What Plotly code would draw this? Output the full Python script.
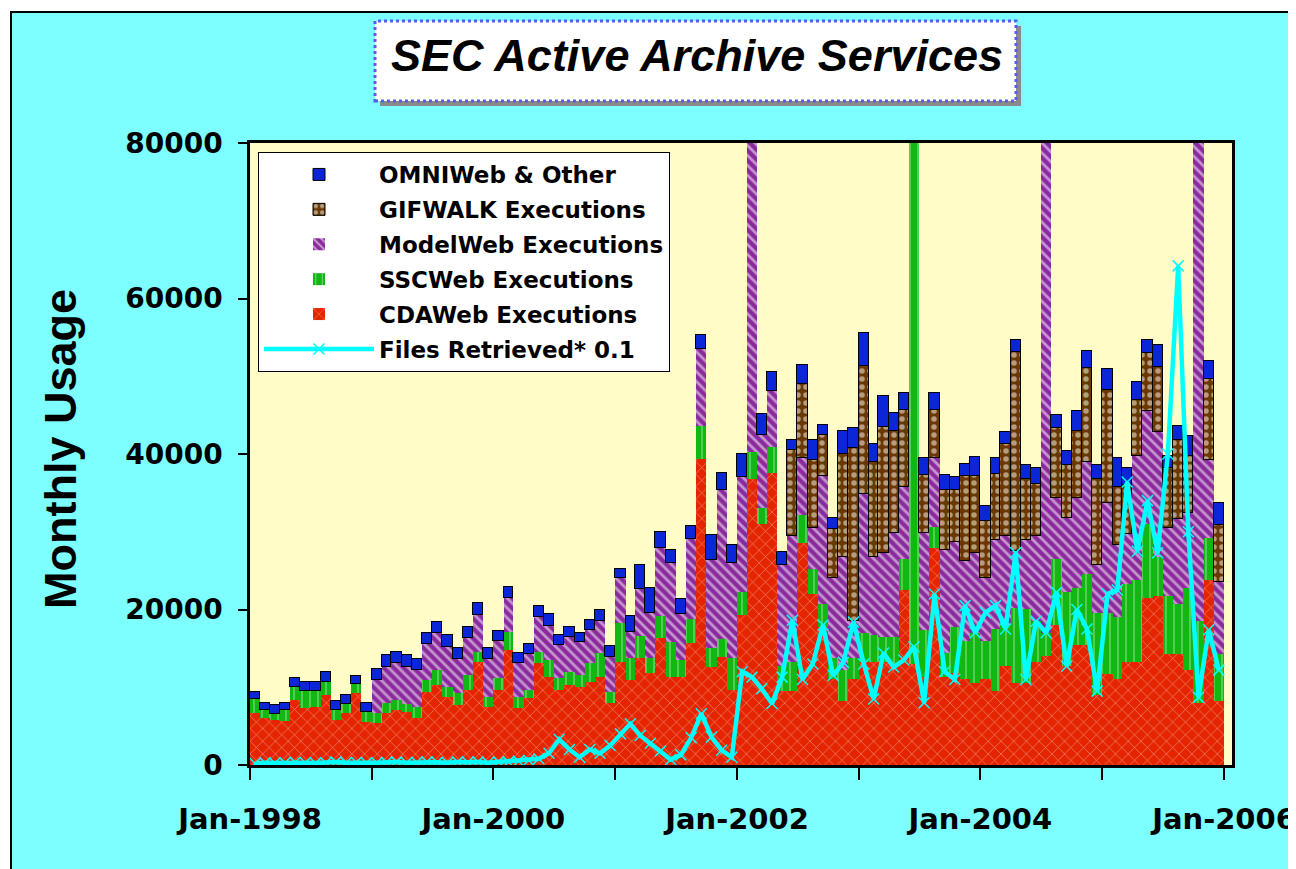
import pandas as pd
import plotly.graph_objects as go

# ---------------- data (monthly, Jan-1998 .. Dec-2005) ----------------
months = pd.date_range("1998-01-01", periods=96, freq="MS")

cdaweb = [
    6730, 6000, 5800, 5600, 8360, 7290, 7500, 9000, 5790, 6650, 9220, 5570,          # 1998
    5360, 6650, 7070, 6800, 6000, 9430, 10290, 8780, 7720, 9650, 13290, 7500,        # 1999
    9650, 14790, 7290, 8620, 13080, 11360, 9650, 10290, 10070, 10720, 11360, 7930,   # 2000
    13290, 10930, 13720, 11790, 16290, 11360, 11360, 15650, 39310, 12640, 13900, 9650,  # 2001
    19350, 36800, 31000, 37600, 9540, 9540, 28600, 22000, 17750, 11100, 8200, 11100,    # 2002
    13250, 13250, 13250, 12700, 22500, 13000, 11320, 27900, 11320, 11830, 11100, 10600, # 2003
    11100, 9540, 12700, 10600, 10600, 13250, 14000, 18000, 12700, 15400, 15400, 9000,   # 2004
    11660, 11100, 13250, 13250, 21500, 21700, 14300, 14300, 12200, 8000, 23850, 8200,   # 2005
]
sscweb = [
    1720, 1070, 800, 1470, 1720, 2230, 2020, 1700, 1280, 1190, 1200, 1230,
    1290, 1280, 1290, 1100, 1500, 1500, 1930, 1290, 1500, 1920, 1280, 1280,
    1540, 2350, 1490, 1030, 1490, 2140, 1500, 1710, 1500, 2360, 3000, 1500,
    4930, 2790, 2870, 1930, 2870, 4500, 2140, 3090, 4290, 2360, 2300, 4070,
    2910, 3500, 2100, 3300, 3160, 3710, 3500, 3200, 2950, 2700, 4000, 2700,
    3750, 3450, 3180, 3700, 4000, 80000, 6040, 2700, 3080, 5920, 4800, 6360,
    4800, 7960, 5300, 9540, 9500, 5300, 3000, 8500, 9560, 7400, 9200, 10600,
    7940, 8000, 10050, 10600, 9500, 5070, 7400, 6370, 10600, 10500, 5410, 6100,
]
modelweb = [
    0, 0, 0, 0, 0, 0, 0, 0, 0, 0, 0, 0,
    4280, 4710, 4720, 4740, 4720, 4630, 4710, 5140, 4370, 4720, 4720, 4810,
    4760, 4290, 4300, 4620, 4500, 4420, 4280, 4500, 4200, 4280, 4200, 4420,
    5780, 3420, 6000, 5870, 8700, 10080, 5920, 10280, 9860, 11360, 19200, 12220,
    14840, 42000, 9400, 7200, 13000, 16150, 7400, 5300, 16500, 10300, 14600, 4750,
    17900, 10060, 10870, 13400, 9300, 0, 12480, 8870, 13250, 10930, 10300, 10340,
    8200, 11400, 11400, 7420, 8800, 10850, 70000, 7840, 9540, 11500, 14360, 6100,
    14050, 9250, 6400, 15900, 14500, 16000, 8800, 11030, 9600, 70000, 9940, 9300,
]
gifwalk = [
    0, 0, 0, 0, 0, 0, 0, 0, 0, 0, 0, 0,
    0, 0, 0, 0, 0, 0, 0, 0, 0, 0, 0, 0,
    0, 0, 0, 0, 0, 0, 0, 0, 0, 0, 0, 0,
    0, 0, 0, 0, 0, 0, 0, 0, 0, 0, 0, 0,
    0, 0, 0, 0, 0, 11100, 9500, 8700, 5200, 6200, 13200, 22250,
    16400, 12190, 16160, 13200, 9900, 0, 7460, 6170, 7720, 6690, 11000, 9900,
    7300, 8500, 11900, 25540, 7900, 6700, 0, 9010, 6800, 8700, 12040, 11100,
    14550, 7450, 6300, 7150, 7500, 8480, 7660, 10060, 7350, 0, 10500, 7250,
]
omniweb = [
    950, 930, 1100, 930, 1070, 1120, 1120, 1200, 1160, 1160, 1030, 1200,
    1420, 1460, 1410, 1460, 1370, 1450, 1420, 1510, 1410, 1500, 1580, 1410,
    1320, 1420, 1280, 1290, 1380, 1460, 1290, 1200, 1240, 1290, 1370, 1450,
    1200, 2020, 3130, 3210, 2140, 1710, 1880, 1750, 1840, 3220, 2200, 2350,
    2900, 2500, 2660, 2500, 1750, 1260, 2500, 2560, 1300, 1500, 3000, 2550,
    4200, 2390, 3940, 2260, 2200, 0, 2180, 2190, 1930, 1670, 1500, 2400,
    1900, 2100, 1500, 1500, 1800, 2100, 0, 1700, 1800, 2500, 2300, 1800,
    2700, 3700, 2160, 2300, 1700, 2810, 1590, 1810, 2550, 0, 2300, 2800,
]
files_x01 = [
    200, 300, 250, 300, 350, 300, 250, 300, 400, 300, 350, 300,
    300, 350, 400, 300, 350, 400, 350, 300, 400, 350, 400, 300,
    400, 400, 500, 600, 800, 1500, 3300, 2000, 1000, 2000, 1500, 2500,
    4000, 5300, 3800, 2800, 1800, 700, 1300, 3500, 6600, 3600, 1900, 1000,
    12000, 11300, 9800, 7900, 11300, 18600, 11000, 13000, 18000, 11500, 13200, 18400,
    13000, 8500, 14400, 12600, 13500, 15200, 8000, 22000, 12000, 11000, 20500, 17000,
    19600, 20500, 17500, 27300, 11000, 18500, 17000, 22200, 12700, 20000, 17500, 9500,
    22000, 22500, 36400, 27500, 34000, 27300, 40000, 64200, 30000, 8700, 17400, 12200,
]

tick_dates = ["1998-01-01", "1999-01-01", "2000-01-01", "2001-01-01", "2002-01-01",
              "2003-01-01", "2004-01-01", "2005-01-01", "2006-01-01"]
tick_labels = ["Jan-1998", "", "Jan-2000", "", "Jan-2002", "", "Jan-2004", "", "Jan-2006"]
y_ticks = [0, 20000, 40000, 60000, 80000]
y_tick_labels = ["0", "20000", "40000", "60000", "80000"]

# ---------------- figure ----------------
x = months.strftime("%Y-%m-%d")
widths = [d * 86400000 for d in months.days_in_month]

OFF = 8                      # page body margin
W, H = 1296 - OFF, 869 - OFF
PL, PR, PT, PB = 250, 1232, 143, 765   # plot area in page pixels
L, R, T, B = PL - OFF, W - (PR - OFF), PT - OFF, H - (PB - OFF)
PW, PH = PR - PL, PB - PT


def px(xp):
    return (xp - PL) / PW


def py(yp):
    return (PB - yp) / PH


fig = go.Figure()

bar_specs = [
    ("CDAWeb Executions", cdaweb, "#E42500", dict(shape="x", fgcolor="white", size=9, solidity=0.13), 0, 5),
    ("SSCWeb Executions", sscweb, "#12B812", dict(shape="|", fgcolor="white", size=8, solidity=0.14), 0, 4),
    ("ModelWeb Executions", modelweb, "#8A2A9C", dict(shape="\\", fgcolor="white", size=7, solidity=0.4), 0, 3),
    ("GIFWALK Executions", gifwalk, "#6A3800", dict(shape=".", fgcolor="white", size=8, solidity=0.38), 1, 2),
    ("OMNIWeb & Other", omniweb, "#0A26D6", None, 1, 1),
]
for name, vals, col, pat, lw, rank in bar_specs:
    marker = dict(color=col, line=dict(color="black", width=lw))
    if pat:
        marker["pattern"] = pat
    fig.add_trace(go.Bar(
        name=name, x=x, y=vals, width=widths,
        xperiod="M1", xperiodalignment="middle",
        marker=marker, legendrank=rank, legendgroup=name,
    ))

fig.add_trace(go.Scatter(
    name="Files Retrieved* 0.1", x=x, y=files_x01,
    xperiod="M1", xperiodalignment="middle",
    mode="lines+markers",
    line=dict(color="#00FFFF", width=4.5),
    marker=dict(symbol="x-thin", size=11, line=dict(color="#00FFFF", width=1.5)),
    legendrank=6, legendgroup="files",
))

shapes = [
    # cyan panel with black edge
    dict(type="rect", xref="paper", yref="paper", layer="below",
         x0=px(11), x1=px(1400), y0=py(900), y1=py(12),
         fillcolor="#7DFFFF", line=dict(color="black", width=2)),
    # plot area background
    dict(type="rect", xref="paper", yref="paper", layer="below",
         x0=0, x1=1, y0=0, y1=1, fillcolor="#FFFCC8", line=dict(width=0)),
    # title shadow
    dict(type="rect", xref="paper", yref="paper", layer="below",
         x0=px(380), x1=px(1021), y0=py(106), y1=py(26),
         fillcolor="#8A8A8A", line=dict(width=0)),
    # title box
    dict(type="rect", xref="paper", yref="paper", layer="below",
         x0=px(375), x1=px(1016), y0=py(101), y1=py(21),
         fillcolor="white", line=dict(color="#5A5AF0", width=3, dash="dot")),
]

annotations = [
    dict(text="SEC Active Archive Services", xref="paper", yref="paper",
         x=px(697), y=py(55), xanchor="center", yanchor="middle", showarrow=False,
         font=dict(family="Liberation Sans", size=45, color="black", weight="bold", style="italic")),
    dict(text="Monthly Usage", xref="paper", yref="paper",
         x=px(60), y=py(449), xanchor="center", yanchor="middle", showarrow=False,
         textangle=-90,
         font=dict(family="Liberation Sans", size=45, color="black", weight="bold")),
]

fig.update_layout(
    width=W, height=H,
    margin=dict(l=L, r=R, t=T, b=B, pad=0, autoexpand=False),
    paper_bgcolor="white",
    plot_bgcolor="#FFFCC8",
    barmode="stack", bargap=0,
    shapes=shapes, annotations=annotations,
    showlegend=True,
    legend=dict(
        x=px(258), y=py(152), xanchor="left", yanchor="top",
        bgcolor="white", bordercolor="black", borderwidth=1,
        font=dict(family="DejaVu Sans", size=23, color="black", weight="bold"),
        traceorder="grouped", tracegroupgap=2, itemwidth=110,
    ),
    xaxis=dict(
        type="date", range=["1998-01-01", "2006-01-25"], automargin=False,
        tickmode="array", tickvals=tick_dates, ticktext=tick_labels,
        ticks="outside", ticklen=12, tickwidth=1.5, tickcolor="black",
        ticklabelstandoff=14,
        tickfont=dict(family="DejaVu Sans", size=29, color="black", weight="bold"),
        showline=True, linecolor="black", linewidth=2.5, mirror=True,
        showgrid=False, zeroline=False,
    ),
    yaxis=dict(
        range=[0, 80000], automargin=False,
        tickmode="array", tickvals=y_ticks, ticktext=y_tick_labels,
        ticks="outside", ticklen=9, tickwidth=1.5, tickcolor="black",
        ticklabelstandoff=10,
        tickfont=dict(family="DejaVu Sans", size=28, color="black", weight="bold"),
        showline=True, linecolor="black", linewidth=2.5, mirror=True,
        showgrid=False, zeroline=False,
    ),
)

fig.write_html("out.html")
